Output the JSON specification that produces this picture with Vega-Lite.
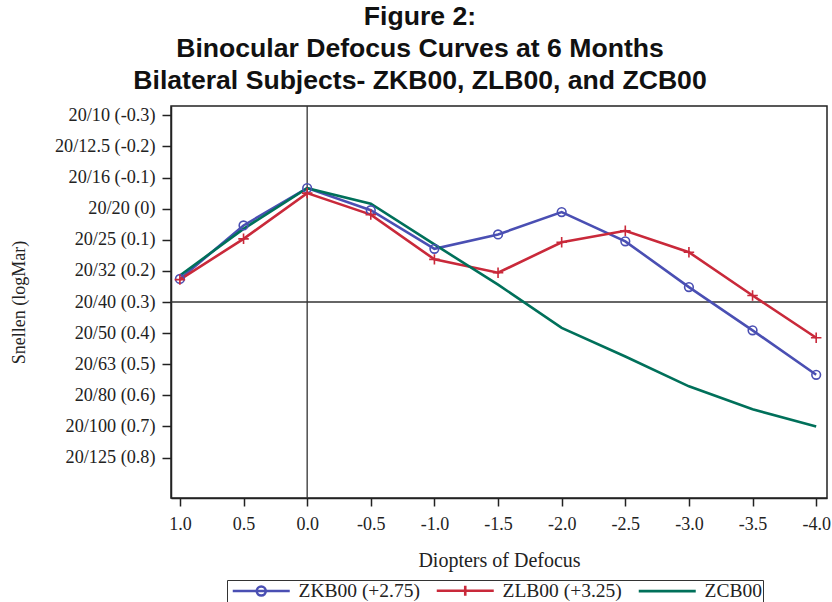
{
  "$schema": "https://vega.github.io/schema/vega-lite/v6.json",
  "width": 656,
  "height": 392,
  "autosize": {"type": "none"},
  "padding": {"left": 171, "top": 106, "right": 5, "bottom": 104},
  "background": "white",
  "title": {
    "text": ["Figure 2:", "Binocular Defocus Curves at 6 Months", "Bilateral Subjects- ZKB00, ZLB00, and ZCB00"],
    "font": "Liberation Sans",
    "fontWeight": "bold",
    "fontSize": 26.6,
    "lineHeight": 32,
    "color": "#111111",
    "anchor": "middle",
    "dx": -79,
    "offset": 11
  },
  "data": {
    "values": [
      {"d": 1.0, "lens": "ZKB00 (+2.75)", "v": 0.226},
      {"d": 0.5, "lens": "ZKB00 (+2.75)", "v": 0.054},
      {"d": 0.0, "lens": "ZKB00 (+2.75)", "v": -0.066},
      {"d": -0.5, "lens": "ZKB00 (+2.75)", "v": 0.005},
      {"d": -1.0, "lens": "ZKB00 (+2.75)", "v": 0.129},
      {"d": -1.5, "lens": "ZKB00 (+2.75)", "v": 0.083},
      {"d": -2.0, "lens": "ZKB00 (+2.75)", "v": 0.011},
      {"d": -2.5, "lens": "ZKB00 (+2.75)", "v": 0.105},
      {"d": -3.0, "lens": "ZKB00 (+2.75)", "v": 0.252},
      {"d": -3.5, "lens": "ZKB00 (+2.75)", "v": 0.391},
      {"d": -4.0, "lens": "ZKB00 (+2.75)", "v": 0.534},
      {"d": 1.0, "lens": "ZLB00 (+3.25)", "v": 0.228},
      {"d": 0.5, "lens": "ZLB00 (+3.25)", "v": 0.097},
      {"d": 0.0, "lens": "ZLB00 (+3.25)", "v": -0.05},
      {"d": -0.5, "lens": "ZLB00 (+3.25)", "v": 0.019},
      {"d": -1.0, "lens": "ZLB00 (+3.25)", "v": 0.163},
      {"d": -1.5, "lens": "ZLB00 (+3.25)", "v": 0.206},
      {"d": -2.0, "lens": "ZLB00 (+3.25)", "v": 0.108},
      {"d": -2.5, "lens": "ZLB00 (+3.25)", "v": 0.071},
      {"d": -3.0, "lens": "ZLB00 (+3.25)", "v": 0.14},
      {"d": -3.5, "lens": "ZLB00 (+3.25)", "v": 0.279},
      {"d": -4.0, "lens": "ZLB00 (+3.25)", "v": 0.415},
      {"d": 1.0, "lens": "ZCB00", "v": 0.215},
      {"d": 0.5, "lens": "ZCB00", "v": 0.065},
      {"d": 0.0, "lens": "ZCB00", "v": -0.066},
      {"d": -0.5, "lens": "ZCB00", "v": -0.016},
      {"d": -1.0, "lens": "ZCB00", "v": 0.115},
      {"d": -1.5, "lens": "ZCB00", "v": 0.244},
      {"d": -2.0, "lens": "ZCB00", "v": 0.383},
      {"d": -2.5, "lens": "ZCB00", "v": 0.475},
      {"d": -3.0, "lens": "ZCB00", "v": 0.571},
      {"d": -3.5, "lens": "ZCB00", "v": 0.645},
      {"d": -4.0, "lens": "ZCB00", "v": 0.7}
    ]
  },
  "encoding": {
    "x": {
      "field": "d", "type": "quantitative",
      "scale": {"domain": [-4.085, 1.07], "reverse": true, "nice": false, "zero": false},
      "axis": {
        "title": "Diopters of Defocus",
        "values": [1, 0.5, 0, -0.5, -1, -1.5, -2, -2.5, -3, -3.5, -4],
        "labelExpr": "replace(format(datum.value, '.1f'), '\u2212', '-')",
        "grid": false, "tickSize": 8, "labelPadding": 9, "titlePadding": 17,
        "labelFontSize": 18, "titleFontSize": 20, "labelFlush": false
      }
    },
    "y": {
      "field": "v", "type": "quantitative",
      "scale": {"domain": [-0.33, 0.93], "reverse": true, "nice": false, "zero": false},
      "axis": {
        "title": "Snellen (logMar)",
        "values": [-0.3, -0.2, -0.1, 0, 0.1, 0.2, 0.3, 0.4, 0.5, 0.6, 0.7, 0.8],
        "labelExpr": "['20/10 (-0.3)','20/12.5 (-0.2)','20/16 (-0.1)','20/20 (0)','20/25 (0.1)','20/32 (0.2)','20/40 (0.3)','20/50 (0.4)','20/63 (0.5)','20/80  (0.6)','20/100 (0.7)','20/125 (0.8)'][round(datum.value*10)+3]",
        "grid": false, "tickSize": 9, "labelPadding": 7, "titlePadding": 26,
        "labelFontSize": 18.2, "titleFontSize": 18, "labelFlush": false
      }
    }
  },
  "layer": [
    {
      "data": {"values": [{"xr": 0}]},
      "mark": {"type": "rule", "color": "#333333", "strokeWidth": 1.3},
      "encoding": {"x": {"field": "xr", "type": "quantitative"}, "y": null}
    },
    {
      "data": {"values": [{"yr": 0.3}]},
      "mark": {"type": "rule", "color": "#333333", "strokeWidth": 1.3},
      "encoding": {"y": {"field": "yr", "type": "quantitative"}, "x": null}
    },
    {
      "mark": {"type": "line", "strokeWidth": 2.6},
      "encoding": {
        "color": {
          "field": "lens", "type": "nominal",
          "scale": {"domain": ["ZKB00 (+2.75)", "ZLB00 (+3.25)", "ZCB00"], "range": ["#4a4fb3", "#c9293a", "#00705a"]},
          "legend": {
            "title": null,
            "orient": "none",
            "legendX": 56,
            "legendY": 474,
            "direction": "horizontal",
            "strokeColor": "#333333",
            "padding": 1,
            "symbolType": "stroke",
            "symbolSize": 100,
            "symbolStrokeWidth": 2.6,
            "labelFont": "Liberation Serif",
            "labelFontSize": 19.5,
            "labelColor": "#222222",
            "labelOffset": 51,
            "columnPadding": 11,
            "labelLimit": 300,
            "encode": {
              "symbols": {
                "update": {
                  "shape": {"signal": "datum.value === 'ZKB00 (+2.75)' ? 'M-1,0L10.4,0M5.6,0A0.9,0.9 0 1,1 3.8,0A0.9,0.9 0 1,1 5.6,0' : datum.value === 'ZLB00 (+3.25)' ? 'M-1,0L10.4,0M4.7,-1L4.7,1' : 'M-1,0L10.4,0'"},
                  "fill": {"value": "transparent"}
                }
              }
            }
          }
        },
        "detail": {"field": "lens"}
      }
    },
    {
      "transform": [{"filter": "datum.lens === 'ZKB00 (+2.75)'"}],
      "mark": {"type": "point", "shape": "circle", "filled": false, "size": 75, "strokeWidth": 1.6, "color": "#4a4fb3", "opacity": 1}
    },
    {
      "transform": [{"filter": "datum.lens === 'ZLB00 (+3.25)'"}],
      "mark": {"type": "point", "shape": "M-1,0L1,0M0,-1L0,1", "filled": false, "size": 110, "strokeWidth": 1.6, "color": "#c9293a", "opacity": 1}
    }
  ],
  "config": {
    "font": "Liberation Serif",
    "view": {"stroke": "#222222", "strokeWidth": 1.5},
    "axis": {
      "domainColor": "#222222", "domainWidth": 1.5,
      "tickColor": "#222222", "tickWidth": 1.5,
      "labelColor": "#222222", "titleColor": "#222222",
      "labelFont": "Liberation Serif", "titleFont": "Liberation Serif",
      "titleFontWeight": "normal"
    }
  }
}
